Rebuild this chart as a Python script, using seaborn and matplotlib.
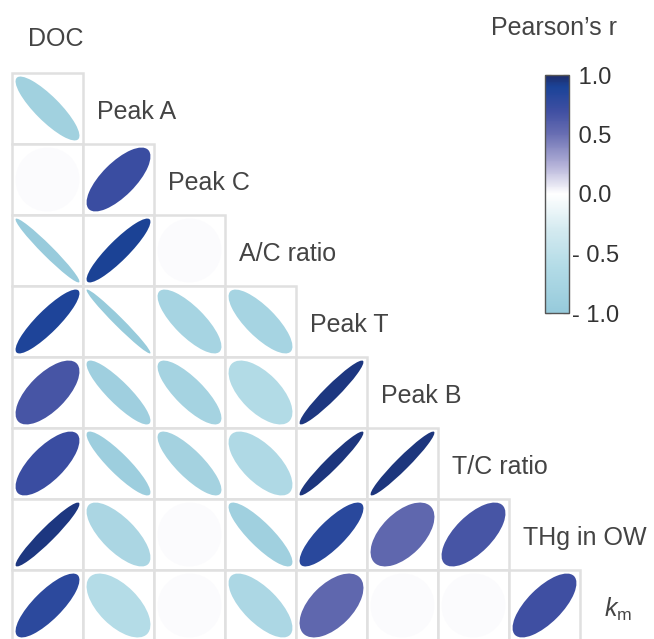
import matplotlib
matplotlib.use("Agg")
import matplotlib.pyplot as plt
import numpy as np
import seaborn as sns
from matplotlib.patches import Ellipse, Rectangle
from matplotlib.colors import Normalize, LinearSegmentedColormap

# variables (columns = first 8, rows = last 8)
variables = ["DOC", "Peak A", "Peak C", "A/C ratio", "Peak T", "Peak B",
             "T/C ratio", "THg in OW", "$k_\\mathrm{m}$"]

# lower triangle of Pearson's r, one list per row (row variable = variables[i+1])
r_peakA = [-0.85]
r_peakC = [0.01, 0.72]
r_acratio = [-0.97, 0.90, 0.01]
r_peakT = [0.88, -0.98, -0.78, -0.78]
r_peakB = [0.66, -0.88, -0.80, -0.62, 0.95]
r_tcratio = [0.72, -0.90, -0.82, -0.66, 0.96, 0.96]
r_thg = [0.95, -0.72, 0.01, -0.86, 0.82, 0.55, 0.66]
r_km = [0.80, -0.60, 0.01, -0.70, 0.55, 0.01, 0.01, 0.70]
rows = [r_peakA, r_peakC, r_acratio, r_peakT, r_peakB, r_tcratio, r_thg, r_km]

cbar_ticks = [-1.0, -0.5, 0.0, 0.5, 1.0]
cbar_labels = ["- 1.0", "- 0.5", " 0.0", " 0.5", " 1.0"]

sns.set_theme(style="white")
plt.rcParams["font.family"] = ["Liberation Sans", "DejaVu Sans"]
plt.rcParams["mathtext.fontset"] = "custom"
plt.rcParams["mathtext.rm"] = "Liberation Sans"
plt.rcParams["mathtext.it"] = "Liberation Sans:italic"

# light blue -> white -> navy
nodes = [0.0, 0.2, 0.35, 0.5, 0.62, 0.75, 0.85, 0.95, 1.0]
cols = ["#96cadb", "#b4dce7", "#d4eaf0", "#ffffff", "#b4b2d8",
        "#6a6fb3", "#3f4fa2", "#1b4398", "#1e2d6b"]
cmap = LinearSegmentedColormap.from_list("pearson", list(zip(nodes, cols)))
norm = Normalize(-1, 1)

n = len(rows)
fig = plt.figure(figsize=(6.54, 6.39), dpi=100)
ax = fig.add_axes([0, 0, 1, 1])
ax.set_xlim(-12 / 71, (654 - 12) / 71)
ax.set_ylim(n - 566 / 71, n + 73 / 71)
ax.axis("off")

s = 0.45
text_col = "#444444"
for i, vals in enumerate(rows):
    y = n - 1 - i
    for j, r in enumerate(vals):
        ax.add_patch(Rectangle((j, y), 1, 1, facecolor="white",
                               edgecolor="#e0e0e0", lw=1.8, zorder=1))
        ax.add_patch(Ellipse((j + 0.5, y + 0.5), 2 * s * np.sqrt(1 + r),
                             2 * s * np.sqrt(1 - r), angle=45,
                             facecolor=cmap(norm(r)), edgecolor="none", zorder=2))

# diagonal labels
for k, name in enumerate(variables):
    dy = -0.02 if k == 0 else -0.055
    dx = 0.03 if k == 0 else (0.14 if k == n else 0)
    ax.text(k + 0.2 + dx, n - k + 0.5 + dy, name, ha="left", va="center",
            fontsize=18, color=text_col)

# colour bar
cax = fig.add_axes([545 / 654, 1 - 313 / 639, 24 / 654, 238 / 639])
sm = plt.cm.ScalarMappable(norm=norm, cmap=cmap)
cb = fig.colorbar(sm, cax=cax)
cb.set_ticks(cbar_ticks)
cb.set_ticklabels(cbar_labels)
cb.outline.set_edgecolor("#555555")
cb.outline.set_linewidth(1)
cax.tick_params(direction="in", left=True, right=True, length=4, width=0.8,
                labelsize=17, labelcolor="#333333", color="#222222", pad=2)
for lab in cax.get_yticklabels():
    lab.set_verticalalignment("center_baseline")
fig.text(491 / 654, 1 - 28 / 639, "Pearson\u2019s r", ha="left", va="center",
         fontsize=18, color=text_col)

fig.savefig("out.png", dpi=100)
